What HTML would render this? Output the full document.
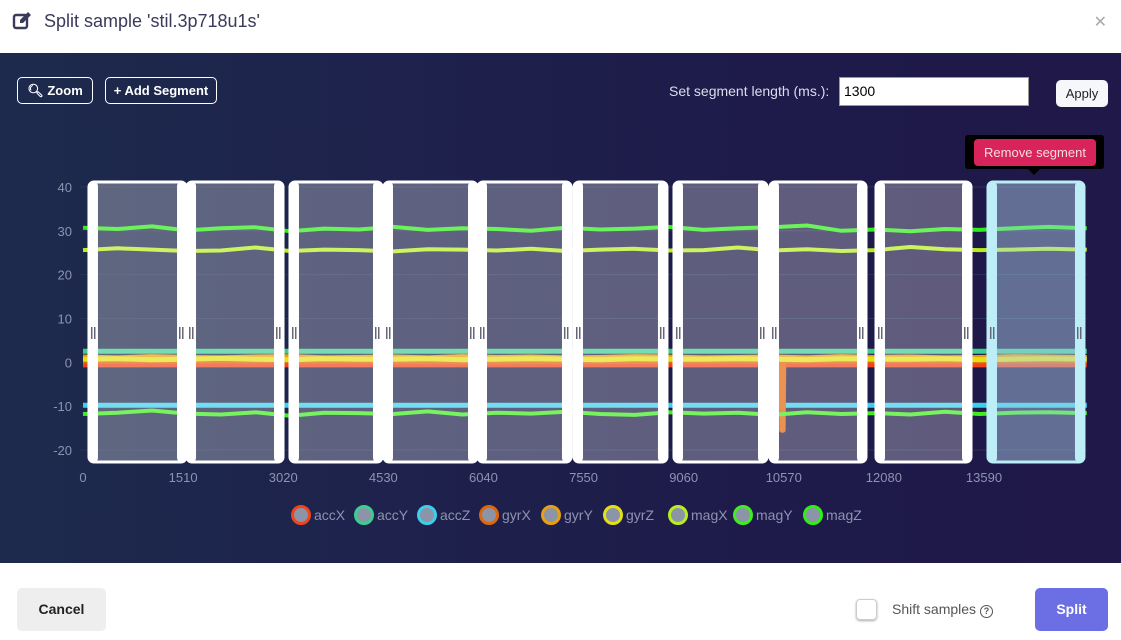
<!DOCTYPE html>
<html><head><meta charset="utf-8"><style>
*{box-sizing:border-box}
body{margin:0;width:1121px;height:640px;overflow:hidden;font-family:"Liberation Sans",sans-serif;background:#fff;position:relative}
.hdr{position:absolute;left:0;top:0;width:1121px;height:53px;background:#fff}
.title{position:absolute;left:44px;top:11px;font-size:18px;color:#3a3a5c}
.close{position:absolute;right:14px;top:12px;color:#aaa;font-size:16px}
.main{position:absolute;left:0;top:53px;width:1121px;height:510px;background:linear-gradient(90deg,#1d2a4d,#1e1a4a 70%,#1f1848)}
.btn{position:absolute;border:1px solid #fff;border-radius:5px;color:#fff;font-size:13px;font-weight:bold;height:27px;line-height:25px;text-align:center}
.foot{position:absolute;left:0;top:563px;width:1121px;height:77px;background:#fff}
</style></head><body>
<div class="hdr">
<svg style="position:absolute;left:12px;top:11px" width="20" height="20" viewBox="0 0 20 20"><rect x="2" y="4" width="13" height="13" rx="2" fill="none" stroke="#3a3a5c" stroke-width="2.4"/><path d="M8 12 L8 9 L16 1 L19 4 L11 12Z" fill="#3a3a5c"/></svg>
<div class="title">Split sample 'stil.3p718u1s'</div>
<div class="close">✕</div>
</div>
<div class="main">
<div class="btn" style="left:17px;top:24px;width:76px">&#x1F50D;&#xFE0E; Zoom</div>
<div class="btn" style="left:105px;top:24px;width:112px">+ Add Segment</div>
<div style="position:absolute;left:669px;top:30px;color:#dde;font-size:14px">Set segment length (ms.):</div>
<div style="position:absolute;left:839px;top:24px;width:190px;height:29px;background:#fff;border:1px solid #999;font-size:14px;padding:5px 4px;color:#000">1300</div>
<div style="position:absolute;left:1056px;top:27px;width:52px;height:27px;background:#f5f7fb;border-radius:5px;font-size:13px;text-align:center;line-height:27px;color:#222">Apply</div>
</div>
<svg id="chart" style="position:absolute;left:0;top:0" width="1121" height="563"></svg>
<div class="foot">
<div style="position:absolute;left:17px;top:25px;width:89px;height:43px;background:#eee;border-radius:5px;font-weight:bold;font-size:14px;text-align:center;line-height:43px;color:#222">Cancel</div>
<div style="position:absolute;left:856px;top:36px;width:21px;height:21px;border:1px solid #ccc;border-radius:4px;box-shadow:0 1px 2px #aaa"></div>
<div style="position:absolute;left:892px;top:38px;font-size:14px;color:#555">Shift samples <span style="display:inline-block;width:13px;height:13px;border:1.5px solid #555;border-radius:50%;font-size:9px;text-align:center;line-height:10px;font-weight:bold">?</span></div>
<div style="position:absolute;left:1035px;top:25px;width:73px;height:43px;background:#6b6fe3;border-radius:5px;font-weight:bold;font-size:14px;text-align:center;line-height:43px;color:#fff">Split</div>
</div>
<script>
const yTicks=[40,30,20,10,0,-10,-20];
const xTicks=[0,1510,3020,4530,6040,7550,9060,10570,12080,13590];
const seriesNames=["accX","accY","accZ","gyrX","gyrY","gyrZ","magX","magY","magZ"];
const seriesColors=["#f0441c","#3cce90","#3ccfec","#e0660c","#e8a010","#e4e018","#b8ee20","#40ee20","#30ee18"];
const sampleTimes=[0,520,1040,1560,2080,2600,3120,3640,4160,4680,5200,5720,6240,6760,7280,7800,8320,8840,9360,9880,10400,10920,11440,11960,12480,13000,13520,14040,14560,15140];
const gyrXTimes=[0,3000,6000,9000,10500,10530,10540,10560,10570,10600,12000,15140];
const accX=Array(30).fill(-0.6);
const accY=Array(30).fill(2.5);
const accZ=Array(30).fill(-9.8);
const gyrX=[0.2,0.3,0.1,0.2,0.2,0.2,-15.5,-15.5,0.2,0.2,0.3,0.2];
const gyrY=[1.2,1.0,1.3,1.1,1.0,1.2,1.3,1.0,1.1,1.2,1.0,1.3,1.1,1.2,1.0,1.1,1.3,1.2,1.0,1.1,1.2,1.0,1.3,1.1,1.2,1.0,1.1,1.3,1.2,1.1];
const gyrZ=[0.7,0.8,0.6,0.7,0.9,0.7,0.6,0.8,0.7,0.7,0.8,0.6,0.7,0.8,0.7,0.6,0.8,0.7,0.7,0.8,0.7,0.6,0.8,0.7,0.7,0.8,0.6,0.7,0.8,0.7];
const magX=[25.6,26.0,25.7,25.4,25.5,26.2,25.4,25.7,25.6,25.3,25.8,25.7,25.5,25.9,25.4,25.7,25.9,25.5,25.6,26.2,25.5,25.8,25.4,25.6,26.3,25.8,25.6,25.7,25.9,25.7];
const magY=[-11.8,-11.5,-11.0,-11.7,-11.9,-11.4,-12.2,-11.5,-11.6,-11.8,-11.2,-11.9,-11.5,-11.7,-11.3,-11.8,-12.0,-11.4,-11.7,-11.5,-12.0,-11.4,-11.8,-11.6,-11.9,-11.3,-11.8,-11.5,-11.4,-11.6];
const magZ=[30.7,30.4,31.0,30.1,30.6,30.8,29.9,30.5,30.3,30.9,30.2,30.6,30.4,30.0,30.7,30.3,30.5,30.9,30.2,30.6,30.8,31.2,30.0,30.3,29.9,30.4,30.2,30.6,30.9,30.6];
const seriesValues=[accX,accY,accZ,gyrX,gyrY,gyrZ,magX,magY,magZ];
const segStarts=[90,1569,3122,4540,5958,7406,8914,10362,11961,13650];
const segEnds=[1554,3017,4510,5943,7360,8808,10317,11810,13394,15098];
const selectedSeg=9;

const svg=document.getElementById('chart');const NS='http://www.w3.org/2000/svg';
const X=v=>83+v*(901/13590);const Y=v=>362.3-v*(263/60);
function mk(t,a,p){const e=document.createElementNS(NS,t);for(const k in a)e.setAttribute(k,a[k]);(p||svg).appendChild(e);return e;}
yTicks.forEach(t=>{
 const g=mk('line',{x1:80,x2:1087,y1:Y(t),y2:Y(t),stroke:'#2a3258','stroke-width':1});
 
 
 const l=mk('text',{x:72,y:Y(t)+5,'text-anchor':'end',fill:'#8d93b0','font-size':13,'font-family':'Liberation Sans'});l.textContent=t;
 
 
});
xTicks.forEach(t=>{
 const l=mk('text',{x:X(t),y:482,'text-anchor':'middle',fill:'#8d93b0','font-size':13,'font-family':'Liberation Sans'});l.textContent=t;
 
 
});
seriesValues.forEach((vals,i)=>{
 const times=(i===3)?gyrXTimes:sampleTimes;
 let d='';vals.forEach((v,j)=>{d+=(j?'L':'M')+X(times[j]).toFixed(1)+' '+Y(v).toFixed(1);});
 const p=mk('path',{d:d,fill:'none',stroke:seriesColors[i],'stroke-width':i<6?5:4,'stroke-linejoin':'round'});
 
 
});
segStarts.forEach((s,i)=>{
 const x1=X(s),x2=X(segEnds[i]);const sel=i===selectedSeg;
 const bc=sel?'#bdeef8':'#ffffff';
 const g=mk('g',{});
 
 
 mk('rect',{x:x1,y:182,width:x2-x1,height:280,rx:5,fill:sel?'rgba(180,215,240,0.45)':'rgba(255,255,255,0.29)',stroke:bc,'stroke-width':3},g);
 mk('rect',{x:x1,y:182,width:9,height:280,rx:4,fill:bc},g);
 mk('rect',{x:x2-9,y:182,width:9,height:280,rx:4,fill:bc},g);
 [x1+2,x2-7].forEach(hx=>{mk('rect',{x:hx,y:327,width:1.5,height:12,fill:'#667'},g);mk('rect',{x:hx+3,y:327,width:1.5,height:12,fill:'#667'},g);});
});
const tg=mk('g',{});


mk('rect',{x:965,y:135,width:139,height:34,rx:3,fill:'#000'},tg);
mk('path',{d:'M1028 169 L1034 175 L1040 169Z',fill:'#000'},tg);
mk('rect',{x:974,y:139,width:122,height:27,rx:4,fill:'#d8245a'},tg);
const tt=mk('text',{x:1035,y:157,'text-anchor':'middle',fill:'#f7dbe4','font-size':13,'font-family':'Liberation Sans'},tg);tt.textContent='Remove segment';
const lx=[301,364,427,489,551,613,678,743,813];
seriesNames.forEach((n,i)=>{
 const g=mk('g',{});
 
 
 mk('circle',{cx:lx[i],cy:515,r:8.5,fill:'#8c94a8',stroke:seriesColors[i],'stroke-width':3},g);
 const t=mk('text',{x:lx[i]+13,y:520,fill:'#8d93b0','font-size':14,'font-family':'Liberation Sans'},g);t.textContent=n;
});
</script>
</body></html>
